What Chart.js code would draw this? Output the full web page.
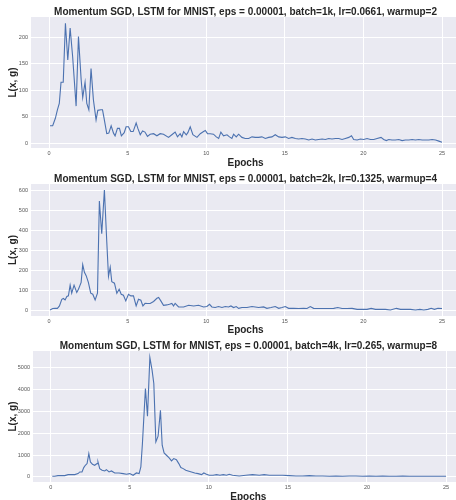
<!DOCTYPE html>
<html>
<head>
<meta charset="utf-8">
<title>Momentum SGD, LSTM for MNIST</title>
<script src="https://cdn.jsdelivr.net/npm/chart.js@4"></script>
<style>
  html, body { margin: 0; padding: 0; background: #ffffff; }
  #wrap { position: relative; width: 456px; height: 500px; overflow: hidden; }
  #wrap canvas { position: absolute; left: 0; }
</style>
</head>
<body>
<div id="wrap">
  <canvas id="panel1" width="456" height="175" style="top:0"></canvas>
  <canvas id="panel2" width="456" height="175" style="top:167px"></canvas>
  <canvas id="panel3" width="456" height="166" style="top:334px"></canvas>
</div>
<script>
// Shared ticks
const X_TICKS = [0, 5, 10, 15, 20, 25];

// batch=1k, lr=0.0661, warmup=2
const TITLE_1 = 'Momentum SGD, LSTM for MNIST, eps = 0.00001, batch=1k, lr=0.0661, warmup=2';
const EPOCHS_1 = [0.06,0.23,0.4,0.53,0.65,0.76,0.9,1.04,1.19,1.34,1.5,1.72,1.87,2.04,2.14,2.29,2.4,2.53,2.67,2.82,
  2.99,3.1,3.3,3.4,3.5,3.67,3.8,3.95,4.1,4.2,4.35,4.48,4.6,4.78,4.9,5.05,5.2,5.35,5.54,5.65,5.8,5.95,6.1,6.26,
  6.43,6.65,6.86,7.07,7.28,7.6,7.81,8.02,8.17,8.34,8.45,8.56,8.73,8.83,8.98,9.15,9.41,9.62,9.83,9.94,
  10.08,10.25,10.46,10.64,10.79,10.93,11.1,11.32,11.48,11.63,11.74,11.91,12.06,12.27,12.48,12.7,12.91,13.12,13.33,13.54,
  13.76,13.97,14.18,14.39,14.61,14.82,15.03,15.24,15.45,15.67,15.88,16.09,16.3,16.52,16.73,16.94,17.15,17.37,17.58,17.79,
  18.0,18.22,18.43,18.64,18.85,19.07,19.24,19.38,19.6,19.81,20.02,20.23,20.45,20.66,20.87,21.12,21.29,21.46,21.61,21.82,
  22.03,22.25,22.46,22.67,22.89,23.1,23.31,23.52,23.74,23.95,24.16,24.37,24.59,24.8,25.0];
const LOSS_1 = [33,33,47,63,75,115,115,226,157,217,163,70,201,120,86,115,75,63,141,82,
  44,62,63,63,47,18,19,33,19,14,28,28,14,20,31,31,22,22,38,28,16,23,21,13,
  17,18,14,18,17,11,16,21,12,18,12,22,16,20,31,16,11,18,22,24,
  18,18,17,12,9,21,14,16,12,9,17,12,17,11,9,9,12,11,11,12,
  9,11,12,16,12,11,12,9,11,9,8,9,8,6,8,6,7,8,7,9,
  8,9,9,7,9,11,14,7,6,8,7,9,7,7,9,11,7,5,7,6,
  6,7,5,6,6,7,6,7,6,6,6,7,6,4,2];
const Y_TICKS_1 = [0, 50, 100, 150, 200];

// batch=2k, lr=0.1325, warmup=4
const TITLE_2 = 'Momentum SGD, LSTM for MNIST, eps = 0.00001, batch=2k, lr=0.1325, warmup=4';
const EPOCHS_2 = [0.06,0.23,0.38,0.53,0.66,0.81,0.91,1.02,1.13,1.23,1.34,1.44,1.59,1.76,1.87,2.04,2.14,2.25,2.36,2.5,
  2.65,2.78,2.93,3.08,3.2,3.35,3.52,3.67,3.78,3.89,3.99,4.16,4.31,4.46,4.59,4.73,4.88,5.05,5.2,5.37,
  5.54,5.69,5.84,5.97,6.11,6.28,
  6.43,6.65,6.86,6.97,7.11,7.28,7.49,7.66,7.81,7.92,8.02,8.24,8.56,8.88,9.2,9.51,9.83,10.04,10.21,10.36,
  10.57,10.78,11.0,11.21,11.42,11.57,11.74,11.91,12.06,12.27,12.59,12.91,13.12,13.33,13.65,13.86,14.12,14.39,14.61,14.82,
  15.03,15.24,15.56,15.88,16.2,16.41,16.62,16.83,17.15,17.47,17.79,18.11,18.37,18.64,18.96,19.28,19.6,19.92,20.23,20.49,
  20.77,21.08,21.4,21.72,22.1,22.36,22.67,22.99,23.31,23.59,23.84,24.1,24.31,24.52,24.74,25.0];
const LOSS_2 = [5,12,13,13,25,58,62,55,72,75,128,88,128,92,108,142,230,192,175,142,
  88,83,55,88,545,383,600,345,172,217,145,138,88,108,83,78,50,83,75,75,
  25,58,53,25,38,37,
  37,47,63,67,50,28,30,33,37,25,38,20,20,28,25,28,20,22,33,20,
  17,22,17,22,20,25,17,22,13,17,17,22,20,17,20,13,17,22,13,17,
  22,13,13,12,13,12,22,13,12,12,12,13,17,12,12,13,8,8,8,13,
  8,8,8,5,13,8,8,8,5,8,5,8,13,8,13,12];
const Y_TICKS_2 = [0, 100, 200, 300, 400, 500, 600];

// batch=4k, lr=0.265, warmup=8
const TITLE_3 = 'Momentum SGD, LSTM for MNIST, eps = 0.00001, batch=4k, lr=0.265, warmup=8';
const EPOCHS_3 = [0.1,0.25,0.46,0.68,0.89,1.1,1.31,1.52,1.73,1.84,1.98,2.09,2.19,2.3,2.41,2.51,2.64,2.78,2.93,2.99,
  3.1,3.25,3.42,3.52,3.69,3.84,4.05,4.32,4.58,4.79,5.0,5.21,5.42,5.59,5.7,5.8,5.99,6.12,6.27,6.41,
  6.52,6.65,6.79,6.94,7.05,7.17,7.32,7.49,7.64,7.78,7.95,8.1,8.23,8.38,8.54,8.69,8.9,9.11,9.32,9.54,
  9.68,9.85,10.02,10.27,10.49,10.7,10.91,11.12,
  11.29,11.5,11.92,12.34,12.76,13.19,13.5,13.82,14.24,14.66,15.09,15.51,15.93,16.35,16.77,17.2,17.62,18.04,18.46,18.88,
  19.3,19.73,20.15,20.57,20.99,21.41,21.84,22.26,22.68,23.1,23.52,23.95,24.37,24.79,25.0];
const LOSS_3 = [30,30,60,60,60,107,107,107,152,229,229,427,533,610,1067,686,579,533,610,686,
  381,305,274,335,229,274,183,183,152,122,152,76,183,152,457,1524,4039,2774,5456,4877,
  4267,1600,1859,3048,1448,1097,991,869,732,838,792,610,427,381,305,274,229,183,152,107,
  183,122,76,76,107,76,107,76,
  122,76,46,76,107,76,107,76,76,76,60,46,46,60,46,46,30,46,30,46,
  46,30,46,30,46,30,30,46,30,30,30,30,30,30,30];
const Y_TICKS_3 = [0, 1000, 2000, 3000, 4000, 5000];

const FONT = '"Liberation Sans", Arial, sans-serif';
const STYLE = {
    line: '#4C72B0',
    panel: '#EAEAF2',
    grid: '#ffffff',
    text: '#262626',
    tick: '#555555'
};

// seaborn-like grey plotting area behind the grid
const panelBackground = {
    id: 'panelBackground',
    beforeDraw(chart) {
        const { ctx, chartArea: a } = chart;
        ctx.save();
        ctx.fillStyle = STYLE.panel;
        ctx.fillRect(a.left, a.top, a.right - a.left, a.bottom - a.top);
        ctx.restore();
    }
};

// title, x label and rotated y label
const panelText = {
    id: 'panelText',
    afterDraw(chart, args, opts) {
        const { ctx, chartArea: a, scales } = chart;
        const cx = scales.x.getPixelForValue(12.5);
        ctx.save();
        ctx.fillStyle = STYLE.text;
        ctx.font = 'bold 10px ' + FONT;
        ctx.textAlign = 'center';
        ctx.textBaseline = 'alphabetic';
        ctx.fillText(opts.title, cx, opts.titleY);
        ctx.fillText('Epochs', cx, opts.xLabelY);
        ctx.translate(opts.yLabelX, (a.top + a.bottom) / 2);
        ctx.rotate(-Math.PI / 2);
        ctx.fillText('L(x, g)', 0, 0);
        ctx.restore();
    }
};

function axis(ticks, fit) {
    return {
        type: 'linear',
        grid: { color: STYLE.grid, lineWidth: 1, drawTicks: false },
        border: { display: false },
        ticks: {
            color: STYLE.tick,
            font: { family: FONT, size: 5.5 },
            padding: 3,
            autoSkip: false,
            maxRotation: 0,
            // plain numbers, no thousands separator
            callback: (v) => String(v)
        },
        afterBuildTicks: (scale) => { scale.ticks = ticks.map((v) => ({ value: v })); },
        afterFit: fit
    };
}

function lossChart(id, p) {
    const el = document.getElementById(id);
    if (!el) return null;
    const x = axis(X_TICKS, (s) => { s.height = el.height - p.bottom; });
    x.min = p.xMin; x.max = p.xMax;
    x.ticks.padding = 2;
    const y = axis(p.yTicks, (s) => { s.width = p.left; });
    y.min = p.yMin; y.max = p.yMax;

    return new Chart(el, {
        type: 'line',
        data: {
            datasets: [{
                data: p.epochs.map((e, i) => ({ x: e, y: p.loss[i] })),
                borderColor: STYLE.line,
                borderWidth: 1.1,
                pointRadius: 0,
                tension: 0,
                fill: false
            }]
        },
        options: {
            responsive: false,
            animation: false,
            events: [],
            layout: { padding: { top: p.top, left: 0, right: 0, bottom: 0 } },
            plugins: {
                legend: { display: false },
                tooltip: { enabled: false },
                panelText: { title: p.title, titleY: 15, xLabelY: 166, yLabelX: 16 }
            },
            scales: { x, y }
        },
        plugins: [panelBackground, panelText]
    });
}

lossChart('panel1', {
    title: TITLE_1, epochs: EPOCHS_1, loss: LOSS_1, yTicks: Y_TICKS_1,
    xMin: -1.15, xMax: 25.89, yMin: -9, yMax: 238,
    left: 31, top: 17, bottom: 148
});
lossChart('panel2', {
    title: TITLE_2, epochs: EPOCHS_2, loss: LOSS_2, yTicks: Y_TICKS_2,
    xMin: -1.15, xMax: 25.89, yMin: -25, yMax: 630,
    left: 31, top: 17, bottom: 149
});
lossChart('panel3', {
    title: TITLE_3, epochs: EPOCHS_3, loss: LOSS_3, yTicks: Y_TICKS_3,
    xMin: -1.12, xMax: 25.63, yMin: -230, yMax: 5750,
    left: 33, top: 17, bottom: 148
});
</script>
</body>
</html>
